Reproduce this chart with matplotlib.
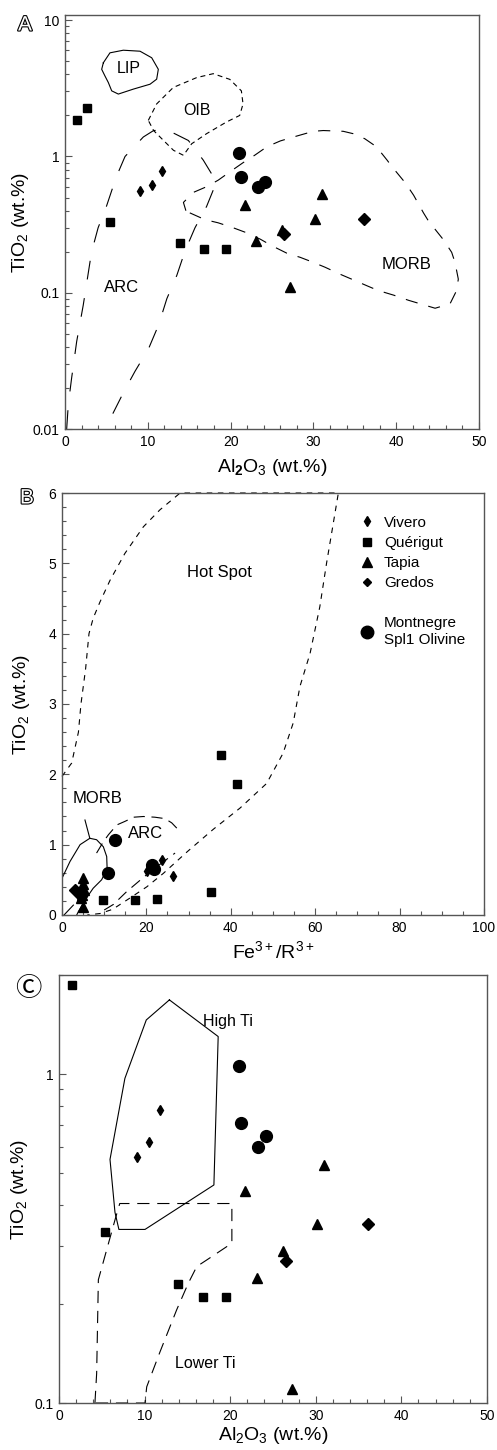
import numpy as np
import matplotlib
matplotlib.use("Agg")
import matplotlib.pyplot as plt
import matplotlib.patheffects as pe
from matplotlib.lines import Line2D
from matplotlib.ticker import MultipleLocator, FixedLocator, LogLocator, NullFormatter

plt.rcParams["font.family"] = ["Liberation Sans", "DejaVu Sans"]
plt.rcParams["mathtext.fontset"] = "custom"
plt.rcParams["mathtext.rm"] = "Liberation Sans"
plt.rcParams["mathtext.it"] = "Liberation Sans:italic"
plt.rcParams["mathtext.bf"] = "Liberation Sans:bold"

# ---- samples: Al2O3 / Fe3+R3+ vs TiO2 ----
VIV_AL = [9.1, 10.5, 11.75]
VIV_FE = [26.2, 20.2, 23.6]
VIV_TI = [0.56, 0.62, 0.78]

QUE_AL = [1.5, 2.7, 5.4, 13.9, 16.8, 19.5]
QUE_FE = [41.5, 37.6, 35.3, 22.6, 9.8, 17.3]
QUE_TI = [1.86, 2.28, 0.33, 0.23, 0.21, 0.21]

TAP_AL = [21.7, 31.0, 30.2, 26.2, 23.1, 27.2]
TAP_FE = [4.9, 4.9, 5.2, 4.8, 4.5, 4.9]
TAP_TI = [0.44, 0.53, 0.35, 0.29, 0.24, 0.11]

GRE_AL = [26.5, 36.1]
GRE_FE = [4.5, 3.1]
GRE_TI = [0.27, 0.35]

MON_AL = [21.0, 21.3, 23.3, 24.2]
MON_FE = [12.6, 21.4, 11.0, 21.8]
MON_TI = [1.06, 0.71, 0.60, 0.65]

# ---- field outlines, panel A ----
LIP_AL = [4.63, 5.43, 7.04, 9.06, 10.47, 11.27, 11.07, 10.27, 8.25, 6.44, 5.64, 5.23, 4.83, 4.43, 4.63]
LIP_TI = [4.87, 5.76, 6.02, 5.92, 5.30, 4.36, 3.69, 3.39, 3.12, 2.87, 3.03, 3.49, 3.89, 4.36, 4.87]

OIB_AL = [10.06, 11.07, 13.08, 15.9, 17.9, 19.9, 21.3, 21.5, 21.1, 19.5, 17.1, 15.3, 14.3, 13.1, 11.9, 10.7, 10.06]
OIB_TI = [1.84, 2.43, 3.21, 3.79, 4.05, 3.68, 3.03, 2.43, 2.0, 1.79, 1.47, 1.24, 1.02, 1.11, 1.31, 1.55, 1.84]

ARC_A_AL = [0.2, 0.4, 0.8, 1.41, 2.2, 3.2, 4.0, 5.0, 6.2, 7.25, 9.46, 10.7, 12.3, 14.9, 16.7, 18.3,
            17.1, 15.7, 14.5, 13.5, 12.3, 11.3, 10.1, 8.45, 7.05, 5.64, 5.0]
ARC_A_TI = [0.01, 0.0152, 0.0237, 0.0439, 0.081, 0.198, 0.30, 0.43, 0.71, 1.0, 1.39, 1.55, 1.57, 1.31, 0.94, 0.65,
            0.43, 0.30, 0.203, 0.134, 0.0905, 0.058, 0.039, 0.0265, 0.0185, 0.0125, 0.01]

MORB_A_AL = [14.6, 14.3, 15.5, 17.1, 18.5, 19.9, 21.5, 22.9, 24.4, 26.0, 27.6, 30.0, 31.2, 33.6, 34.8, 36.2,
             37.6, 38.9, 39.5, 41.1, 42.1, 43.3, 43.9, 45.7, 46.7, 47.1, 47.5, 47.3, 46.5, 44.7, 42.9,
             41.5, 39.7, 37.8, 36.4, 34.6, 33.2, 31.4, 30.0, 28.4, 26.8, 25.0, 23.6, 21.9, 20.3, 18.5, 16.9, 15.1, 14.6]
MORB_A_TI = [0.40, 0.46, 0.545, 0.60, 0.67, 0.77, 0.90, 1.02, 1.18, 1.30, 1.39, 1.53, 1.55, 1.53, 1.47, 1.35,
             1.18, 0.94, 0.84, 0.64, 0.52, 0.385, 0.336, 0.245, 0.198, 0.167, 0.126, 0.104, 0.083, 0.077, 0.083,
             0.088, 0.096, 0.104, 0.113, 0.126, 0.137, 0.154, 0.167, 0.182, 0.195, 0.221, 0.247, 0.276, 0.30, 0.326, 0.344, 0.385, 0.40]

# ---- field outlines, panel B ----
HOT_FE = [0.0, 2.3, 3.9, 4.5, 5.6, 6.4, 7.4, 9.0, 11.4, 14.9, 19.3, 23.2, 28.0, 65.5, 64.3, 62.7, 61.1,
          58.8, 56.4, 54.8, 52.4, 48.5, 42.2, 35.9, 29.7, 24.0, 20.1, 16.1, 12.0, 9.0, 6.0]
HOT_TI = [1.97, 2.16, 2.6, 3.0, 3.5, 4.0, 4.22, 4.45, 4.76, 5.14, 5.52, 5.76, 6.0, 6.0, 5.57, 5.0, 4.38,
          3.72, 3.25, 2.73, 2.30, 1.87, 1.52, 1.22, 0.90, 0.59, 0.40, 0.24, 0.08, 0.02, 0.0]

ARC_B_FE = [8.2, 9.8, 11.0, 13.0, 14.9, 17.0, 19.3, 22.0, 24.4, 26.0, 27.6]
ARC_B_TI = [0.88, 1.04, 1.14, 1.28, 1.33, 1.39, 1.40, 1.39, 1.37, 1.31, 1.21]
ARC_B2_FE = [10.0, 12.2, 15.3, 21.0, 26.8]
ARC_B2_TI = [0.07, 0.15, 0.33, 0.62, 0.88]

MORB_B_FE = [0.0, 1.9, 4.3, 6.6, 8.2, 9.8, 10.6, 10.7, 9.4, 7.4, 5.45, 3.9, 3.5]
MORB_B_TI = [0.52, 0.76, 1.0, 1.09, 1.07, 0.97, 0.83, 0.66, 0.50, 0.38, 0.21, 0.05, 0.0]
MORB_LEAD_FE = [5.45, 6.6]
MORB_LEAD_TI = [1.35, 1.09]
MORB_B2_FE = [0.5, 2.7]
MORB_B2_TI = [0.0, 0.14]

# ---- field outlines, panel C ----
HIGH_AL = [12.9, 18.6, 18.1, 10.05, 7.0, 6.54, 5.96, 7.7, 10.2, 12.9]
HIGH_TI = [1.68, 1.30, 0.46, 0.337, 0.337, 0.38, 0.55, 0.97, 1.46, 1.68]
LOW_AL = [4.2, 4.4, 4.6, 6.54, 7.05, 7.1, 20.2, 20.2, 17.25, 16.1, 15.1, 13.75, 11.8, 10.25, 10.05, 4.2]
LOW_TI = [0.1, 0.123, 0.237, 0.36, 0.40, 0.404, 0.404, 0.306, 0.272, 0.26, 0.231, 0.192, 0.143, 0.112, 0.1, 0.1]

SPINE = "#555555"
FIELD_LW = 0.8


def style_axes(ax):
    for s in ax.spines.values():
        s.set_linewidth(1.0)
        s.set_color(SPINE)
    ax.tick_params(which="both", direction="in", color=SPINE, labelsize=10, pad=4)
    ax.tick_params(which="major", length=5, width=0.8)
    ax.tick_params(which="minor", length=3, width=0.8)


def plot_samples(ax, xv, xq, xt, xg, xm):
    ax.plot(xv, VIV_TI, "d", color="k", ms=5.2, ls="none", zorder=5)
    ax.plot(xq, QUE_TI, "s", color="k", ms=5.6, ls="none", zorder=5)
    ax.plot(xt, TAP_TI, "^", color="k", ms=6.5, ls="none", zorder=5)
    ax.plot(xg, GRE_TI, "D", color="k", ms=6.3, ls="none", zorder=5)
    ax.plot(xm, MON_TI, "o", color="k", ms=8.5, ls="none", zorder=5)


fig = plt.figure(figsize=(4.97, 14.5), dpi=100)

# ---------------- Panel A ----------------
axA = fig.add_axes([0.1308, 0.7041, 0.833, 0.2855])
axA.set_yscale("log")
axA.set_xlim(0, 50)
axA.set_ylim(0.01, 10.9)
axA.plot(LIP_AL, LIP_TI, color="k", lw=FIELD_LW)
axA.plot(OIB_AL, OIB_TI, color="k", lw=FIELD_LW, ls=(0, (4.5, 3.5)))
axA.plot(ARC_A_AL, ARC_A_TI, color="k", lw=FIELD_LW, ls=(0, (17, 17)))
axA.plot(MORB_A_AL, MORB_A_TI, color="k", lw=FIELD_LW, ls=(0, (11, 10)))
plot_samples(axA, VIV_AL, QUE_AL, TAP_AL, GRE_AL, MON_AL)
axA.text(7.65, 4.4, "LIP", fontsize=11.5, ha="center", va="center")
axA.text(15.9, 2.17, "OIB", fontsize=11.5, ha="center", va="center")
axA.text(6.85, 0.11, "ARC", fontsize=12, ha="center", va="center")
axA.text(41.3, 0.161, "MORB", fontsize=12, ha="center", va="center")
axA.xaxis.set_major_locator(MultipleLocator(10))
axA.xaxis.set_minor_locator(MultipleLocator(2))
axA.yaxis.set_major_locator(FixedLocator([0.01, 0.1, 1, 10]))
axA.set_yticklabels(["0.01", "0.1", "1", "10"])
axA.yaxis.set_minor_locator(LogLocator(base=10, subs=np.arange(2, 10)))
axA.yaxis.set_minor_formatter(NullFormatter())
axA.set_xlabel(r"Al$_\mathbf{2}$O$_3$ (wt.%)", fontsize=14, labelpad=6)
axA.set_ylabel(r"TiO$_2$ (wt.%)", fontsize=14)
axA.yaxis.set_label_coords(-0.082, 0.5)
style_axes(axA)

# ---------------- Panel B ----------------
axB = fig.add_axes([0.1247, 0.369, 0.849, 0.291])
axB.set_xlim(0, 100)
axB.set_ylim(0, 6)
axB.plot(HOT_FE, HOT_TI, color="k", lw=FIELD_LW, ls=(0, (5, 5)), clip_on=False)
axB.plot(ARC_B_FE, ARC_B_TI, color="k", lw=FIELD_LW, ls=(0, (10, 6)))
axB.plot(ARC_B2_FE, ARC_B2_TI, color="k", lw=FIELD_LW, ls=(0, (10, 6)))
axB.plot(MORB_B_FE, MORB_B_TI, color="k", lw=FIELD_LW)
axB.plot(MORB_LEAD_FE, MORB_LEAD_TI, color="k", lw=FIELD_LW)
axB.plot(MORB_B2_FE, MORB_B2_TI, color="k", lw=FIELD_LW)
plot_samples(axB, VIV_FE, QUE_FE, TAP_FE, GRE_FE, MON_FE)
axB.text(37.3, 4.87, "Hot Spot", fontsize=12, ha="center", va="center")
axB.text(8.5, 1.65, "MORB", fontsize=12, ha="center", va="center")
axB.text(19.7, 1.16, "ARC", fontsize=12, ha="center", va="center")
axB.xaxis.set_major_locator(MultipleLocator(20))
axB.xaxis.set_minor_locator(MultipleLocator(5))
axB.yaxis.set_major_locator(MultipleLocator(1))
axB.yaxis.set_minor_locator(MultipleLocator(0.2))
axB.set_xlabel(r"Fe$^{3+}$/R$^{3+}$", fontsize=14, labelpad=4)
axB.set_ylabel(r"TiO$_2$ (wt.%)", fontsize=14)
axB.yaxis.set_label_coords(-0.07, 0.5)
style_axes(axB)

handles = [
    Line2D([], [], marker="d", color="k", ls="none", ms=5.4),
    Line2D([], [], marker="s", color="k", ls="none", ms=6.0),
    Line2D([], [], marker="^", color="k", ls="none", ms=6.5),
    Line2D([], [], marker="D", color="k", ls="none", ms=4.5),
    Line2D([], [], ls="none"),
    Line2D([], [], marker="o", color="k", ls="none", ms=9),
]
labels = ["Vivero", "Quérigut", "Tapia", "Gredos", " ", "Montnegre\nSpl1 Olivine"]
axB.legend(handles, labels, loc="upper left", bbox_to_anchor=(0.705, 0.946), frameon=False,
           fontsize=11, handlelength=1.0, handletextpad=0.6, labelspacing=0.4,
           borderaxespad=0, borderpad=0)

# ---------------- Panel C ----------------
axC = fig.add_axes([0.1187, 0.0324, 0.861, 0.2952])
axC.set_yscale("log")
axC.set_xlim(0, 50)
axC.set_ylim(0.1, 2.0)
axC.plot(HIGH_AL, HIGH_TI, color="k", lw=FIELD_LW)
axC.plot(LOW_AL, LOW_TI, color="k", lw=FIELD_LW, ls=(0, (11, 7)), clip_on=False)
plot_samples(axC, VIV_AL, QUE_AL, TAP_AL, GRE_AL, MON_AL)
axC.text(16.8, 1.44, "High Ti", fontsize=11.5, ha="left", va="center")
axC.text(17.1, 0.132, "Lower Ti", fontsize=11.5, ha="center", va="center")
axC.xaxis.set_major_locator(MultipleLocator(10))
axC.xaxis.set_minor_locator(MultipleLocator(2))
axC.yaxis.set_major_locator(FixedLocator([0.1, 1]))
axC.set_yticklabels(["0.1", "1"])
axC.yaxis.set_minor_locator(LogLocator(base=10, subs=np.arange(2, 10)))
axC.yaxis.set_minor_formatter(NullFormatter())
axC.set_xlabel(r"Al$_2$O$_3$ (wt.%)", fontsize=14, labelpad=2)
axC.set_ylabel(r"TiO$_2$ (wt.%)", fontsize=14)
axC.yaxis.set_label_coords(-0.068, 0.5)
style_axes(axC)

# panel letters (outlined)
outline = [pe.withStroke(linewidth=1.6, foreground="black")]
fig.text(25 / 497, 1 - 25 / 1450, "A", fontsize=15, color="white", ha="center", va="center",
         path_effects=outline)
fig.text(27 / 497, 1 - 498 / 1450, "B", fontsize=15, color="white", ha="center", va="center",
         path_effects=outline)
fig.text(28 / 497, 1 - 988 / 1450, "\u24b8", fontsize=19, color="black", ha="center", va="center",
         family=["Noto Sans CJK JP", "DejaVu Sans"])

fig.savefig("out.png", dpi=100)
